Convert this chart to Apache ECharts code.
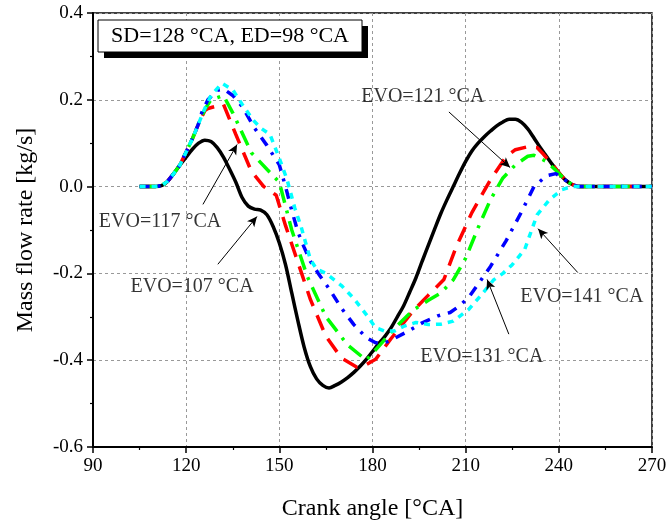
<!DOCTYPE html>
<html>
<head>
<meta charset="utf-8">
<script src="https://cdn.jsdelivr.net/npm/echarts@6/dist/echarts.min.js"></script>
<style>html,body{margin:0;padding:0;background:#fff}#c{width:670px;height:526px}</style>
</head>
<body>
<div id="c"></div>
<script>
// ---- data ----
const xTicks = [90, 120, 150, 180, 210, 240, 270];
const yTicks = [-0.6, -0.4, -0.2, 0.0, 0.2, 0.4];

const angBlack = [105,110,112,114,116,118,120,122,124,126,128,130,132,134,136,138,140,142,144,146,148,150,152,154,156,158,160,162,164,166,168,170,172,174,176,178,180,182,184,186,188,190,192,194,196,198,200,202,204,206,208,210,212,214,216,218,220,222,224,226,228,230,232,234,236,238,240,242,244,246,248,270];
const valBlack = [0,0,0.002,0.012,0.03,0.05,0.068,0.086,0.1,0.107,0.104,0.09,0.068,0.04,0.01,-0.025,-0.045,-0.052,-0.054,-0.065,-0.092,-0.13,-0.18,-0.245,-0.31,-0.37,-0.415,-0.443,-0.458,-0.464,-0.458,-0.45,-0.44,-0.428,-0.414,-0.398,-0.38,-0.362,-0.345,-0.325,-0.3,-0.275,-0.243,-0.21,-0.172,-0.135,-0.098,-0.062,-0.03,0.0,0.03,0.058,0.082,0.1,0.115,0.128,0.14,0.149,0.155,0.155,0.148,0.133,0.112,0.09,0.07,0.05,0.032,0.016,0.006,0.001,0,0];

const angRed = [105,110,112,114,116,118,120,122,124,126,127,132,136,141,145,149,152,156,160,165,170,175,178,181,186,193,198,203,207,212,218,223,226,230,233,235,238,240,242,244,246,270];
const valRed = [0,0,0.002,0.012,0.03,0.05,0.08,0.11,0.145,0.175,0.18,0.19,0.12,0.035,0.0,-0.02,-0.09,-0.175,-0.26,-0.345,-0.395,-0.416,-0.41,-0.398,-0.35,-0.287,-0.25,-0.214,-0.138,-0.06,0.016,0.069,0.085,0.092,0.09,0.075,0.05,0.032,0.016,0.006,0,0];

const angGreen = [105,110,112,114,116,118,120,122,124,126,128,132,135,141,146,150,154,159,165,172,178,183,188,193,198,202,206,210,214,218,222,226,230,232,236,239,242,244,246,270];
const valGreen = [0,0,0.002,0.012,0.03,0.05,0.08,0.11,0.145,0.178,0.2,0.21,0.17,0.078,0.04,0.01,-0.1,-0.207,-0.3,-0.365,-0.4,-0.36,-0.32,-0.285,-0.262,-0.245,-0.215,-0.165,-0.095,-0.03,0.02,0.05,0.07,0.072,0.058,0.038,0.016,0.006,0,0];

const angBlue = [105,110,112,114,116,118,120,122,124,125,127,130,132,135,138,142,146,150,152,154,156,158,160,163,166,170,174,178,181,184,187,191,196,201,205,208,211,214,218,223,228,232,236,239,242,244,246,270];
const valBlue = [0,0,0.002,0.012,0.03,0.05,0.08,0.11,0.145,0.17,0.2,0.222,0.225,0.21,0.185,0.135,0.095,0.05,0.0,-0.055,-0.105,-0.14,-0.172,-0.205,-0.235,-0.28,-0.318,-0.348,-0.36,-0.36,-0.35,-0.335,-0.314,-0.298,-0.29,-0.275,-0.255,-0.225,-0.184,-0.125,-0.058,0.0,0.025,0.03,0.015,0.006,0,0];

const angCyan = [105,110,112,114,116,118,120,122,124,126,128,131.5,135,138,141.5,144,147,150,152.5,155,157,160,162,165,170,174,178,181,184,187,190,194,198,202,206,211,215,219,222,225,229,233,237,241,244,246,270];
const valCyan = [0,0,0.002,0.012,0.03,0.05,0.08,0.11,0.145,0.18,0.21,0.238,0.223,0.19,0.154,0.135,0.12,0.065,0.016,-0.05,-0.092,-0.168,-0.19,-0.2,-0.228,-0.258,-0.295,-0.325,-0.333,-0.333,-0.322,-0.313,-0.318,-0.317,-0.31,-0.283,-0.25,-0.215,-0.2,-0.18,-0.145,-0.065,-0.03,-0.007,0,0,0];

const noteTexts = ['EVO=117 °CA', 'EVO=107 °CA', 'EVO=121 °CA', 'EVO=131 °CA', 'EVO=141 °CA'];
const noteTextAt = [[111.6,-0.080],[121.9,-0.230],[196.2,0.207],[215.2,-0.391],[247.4,-0.253]];
const arrowFrom = [[125.4,-0.041],[130.2,-0.179],[204.6,0.172],[223.9,-0.340],[246.1,-0.198]];
const arrowTo = [[136.4,0.097],[142.8,-0.069],[224.3,0.044],[216.9,-0.214],[233.3,-0.097]];
const boxText = 'SD=128 °CA, ED=98 °CA';

// ---- chart ----
const FONT = '"Liberation Serif", "Times New Roman", serif';
const pairs = (a, v) => a.map((x, i) => [x, v[i]]);
const chart = echarts.init(document.getElementById('c'), null, {renderer: 'canvas'});

function lineSeries(name, a, v, color, type, smooth) {
  return {
    name, type: 'line', data: pairs(a, v), showSymbol: false, symbol: 'none',
    smooth: smooth ? 0.3 : false,
    lineStyle: {color, width: 3.5, type, cap: 'butt'},
    z: 3
  };
}

const option = {
  animation: false,
  backgroundColor: '#fff',
  grid: {left: 93, right: 18, top: 13, bottom: 78, show: true, borderColor: '#000', borderWidth: 1.5, backgroundColor: 'transparent'},
  xAxis: {
    type: 'value', min: xTicks[0], max: xTicks[xTicks.length - 1], interval: 30,
    name: 'Crank angle [°CA]', nameLocation: 'middle', nameGap: 50,
    nameTextStyle: {fontFamily: FONT, fontSize: 24, color: '#000'},
    axisLine: {onZero: false, lineStyle: {color: '#000', width: 2}},
    axisTick: {show: true, inside: false, length: 6, lineStyle: {color: '#000', width: 1.5}},
    minorTick: {show: true, splitNumber: 2, length: 3, lineStyle: {color: '#000', width: 1.2}},
    axisLabel: {fontFamily: FONT, fontSize: 19, color: '#000', margin: 10},
    splitLine: {show: true, lineStyle: {color: '#999', type: [3, 3], width: 1}}
  },
  yAxis: {
    type: 'value', min: yTicks[0], max: yTicks[yTicks.length - 1], interval: 0.2,
    name: 'Mass flow rate [kg/s]', nameLocation: 'middle', nameGap: 55,
    nameTextStyle: {fontFamily: FONT, fontSize: 24, color: '#000'},
    axisLine: {onZero: false, lineStyle: {color: '#000', width: 2}},
    axisTick: {show: true, inside: false, length: 6, lineStyle: {color: '#000', width: 1.5}},
    minorTick: {show: true, splitNumber: 2, length: 3, lineStyle: {color: '#000', width: 1.2}},
    axisLabel: {fontFamily: FONT, fontSize: 19, color: '#000', margin: 10, formatter: v => v.toFixed(1)},
    splitLine: {show: true, lineStyle: {color: '#999', type: [3, 3], width: 1}}
  },
  series: [
    lineSeries('EVO=107', angBlack, valBlack, '#000000', 'solid', true),
    lineSeries('EVO=117', angRed, valRed, '#ff0000', [16, 10], false),
    lineSeries('EVO=121', angGreen, valGreen, '#00ff00', [16, 8, 3, 8], false),
    lineSeries('EVO=131', angBlue, valBlue, '#0000ff', [10, 8, 3, 8], false),
    lineSeries('EVO=141', angCyan, valCyan, '#00ffff', [6, 6], false),
    {
      type: 'scatter', symbolSize: 0, z: 10,
      data: noteTextAt.map((p, i) => ({value: p, label: {formatter: noteTexts[i]}})),
      label: {show: true, position: 'inside', fontFamily: FONT, fontSize: 20, color: '#000'},
      markLine: {
        silent: true, symbol: ['none', 'arrow'], symbolSize: [7, 10],
        lineStyle: {color: '#000', width: 1, type: 'solid'},
        label: {show: false},
        data: arrowFrom.map((p, i) => [{coord: p}, {coord: arrowTo[i]}])
      }
    }
  ],
  graphic: [
    {type: 'rect', shape: {x: 104, y: 26, width: 264, height: 32}, style: {fill: '#000'}, z: 20},
    {type: 'rect', shape: {x: 98, y: 20, width: 264, height: 32}, style: {fill: '#fff', stroke: '#000', lineWidth: 1}, z: 21},
    {type: 'text', x: 230, y: 36, style: {text: boxText, font: '22px ' + FONT, fill: '#000', textAlign: 'center', textVerticalAlign: 'middle'}, z: 22}
  ]
};
chart.setOption(option);
</script>
</body>
</html>
